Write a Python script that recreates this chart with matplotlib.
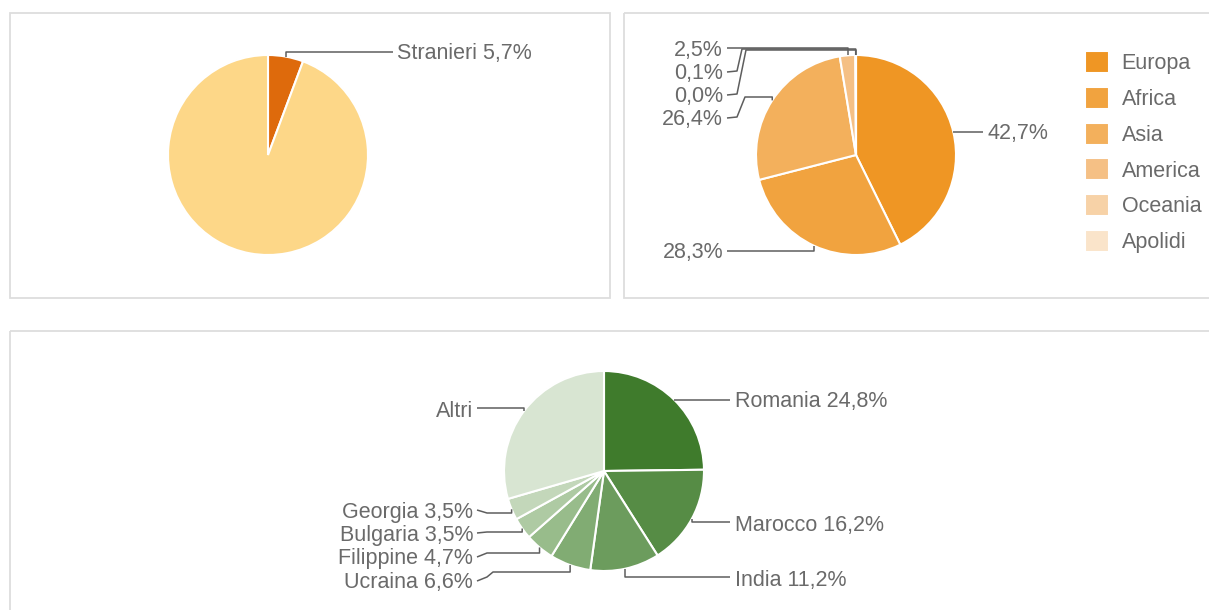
import matplotlib
matplotlib.use("Agg")
import matplotlib.pyplot as plt
from matplotlib.patches import Rectangle
import math

plt.rcParams['font.family'] = ['Liberation Sans', 'DejaVu Sans']

# ---------------- data ----------------
pop_labels = ["Stranieri", "Italiani"]
pop_values = [5.7, 94.3]
pop_colors = ["#DE6A0C", "#FDD788"]

cont_labels = ["Europa", "Africa", "Asia", "America", "Oceania", "Apolidi"]
cont_values = [42.7, 28.3, 26.4, 2.5, 0.1, 0.0]
cont_colors = ["#EF9624", "#F1A33F", "#F3B05C", "#F5C085", "#F7D2A7", "#FAE4CA"]

country_labels = ["Romania", "Marocco", "India", "Ucraina", "Filippine",
                  "Bulgaria", "Georgia", "Altri"]
country_values = [24.8, 16.2, 11.2, 6.6, 4.7, 3.5, 3.5, 29.5]
country_colors = ["#3F7B2C", "#568C45", "#6C9C5D", "#81AC73", "#98BC8B",
                  "#AECAA3", "#C3D7BA", "#D8E5D2"]

def pct(v):
    return f"{v:.1f}".replace(".", ",") + "%"

W, H = 1209, 610
fig = plt.figure(figsize=(W / 100, H / 100), dpi=100)
ax = fig.add_axes([0, 0, 1, 1])

TXT = "#6a6a6a"
LINE = "#5e5e5e"
FS = 15.5

# panel frames
for (x0, y0, x1, y1) in [(10, 13, 610, 298), (624, 13, 1220, 298), (10, 331, 1220, 630)]:
    ax.add_patch(Rectangle((x0, y0), x1 - x0, y1 - y0, fill=False,
                           edgecolor="#DDDDDD", linewidth=1.3, zorder=0))

R = 100

def draw_pie(values, colors, center):
    wedges, _ = ax.pie(values, colors=colors, center=center, radius=R,
                       startangle=-90, counterclock=True, normalize=True,
                       wedgeprops=dict(edgecolor="white", linewidth=1.5))
    return wedges

def edge_point(w):
    th = math.radians((w.theta1 + w.theta2) / 2)
    cx, cy = w.center
    return cx + w.r * math.cos(th), cy + w.r * math.sin(th)

def leader(w, pts):
    ex, ey = edge_point(w)
    path = list(pts) + [(ex, pts[-1][1]), (ex, ey)]
    xs = [p[0] for p in path]
    ys = [p[1] for p in path]
    ax.plot(xs, ys, color=LINE, linewidth=1.1, solid_capstyle="butt",
            solid_joinstyle="round", zorder=3)

def label(x, y, s, ha):
    ax.text(x, y + 1.5, s, ha=ha, va="center", fontsize=FS, color=TXT, zorder=4)

# ---- pie 1: Italiani / Stranieri ----
w1 = draw_pie(pop_values, pop_colors, (268, 155))
leader(w1[0], [(393, 52)])
label(397, 52, f"{pop_labels[0]} {pct(pop_values[0])}", "left")

# ---- pie 2: continents ----
w2 = draw_pie(cont_values, cont_colors, (856, 155))
cont_layout = [
    (988, 132, "left", [(983, 132)]),
    (723, 251, "right", [(727, 251)]),
    (723, 118, "right", [(727, 118), (737, 117), (745, 97)]),
    (723, 49, "right", [(727, 48)]),
    (723, 72, "right", [(727, 72), (737, 71), (742, 49)]),
    (723, 95, "right", [(727, 95), (737, 94), (746, 50)]),
]
for w, v, (tx, ty, ha, pts) in zip(w2, cont_values, cont_layout):
    leader(w, pts)
    label(tx, ty, pct(v), ha)

leg = fig.legend(w2, cont_labels, loc="upper left",
                 bbox_to_anchor=(1085 / W, 1 - 51 / H), frameon=False,
                 fontsize=FS, handlelength=1.1, handleheight=1.2,
                 handletextpad=0.6, labelspacing=0.58, borderpad=0,
                 borderaxespad=0)
for t in leg.get_texts():
    t.set_color(TXT)

# ---- pie 3: countries ----
w3 = draw_pie(country_values, country_colors, (604, 471))
country_layout = [
    (735, 400, "left", [(730, 400)]),
    (735, 524, "left", [(730, 522)]),
    (735, 579, "left", [(730, 577)]),
    (473, 581, "right", [(477, 581), (487, 577), (493, 572)]),
    (473, 557, "right", [(477, 557), (487, 553)]),
    (473, 534, "right", [(477, 533), (487, 532)]),
    (473, 511, "right", [(477, 510), (487, 513)]),
    (473, 410, "right", [(477, 408), (518, 408)]),
]
for w, name, v, (tx, ty, ha, pts) in zip(w3, country_labels, country_values, country_layout):
    leader(w, pts)
    s = name if name == "Altri" else f"{name} {pct(v)}"
    label(tx, ty, s, ha)

ax.set_aspect("auto")
ax.set_xlim(0, W)
ax.set_ylim(H, 0)
ax.set_axis_off()

fig.savefig("out.png", dpi=100, facecolor="white")
